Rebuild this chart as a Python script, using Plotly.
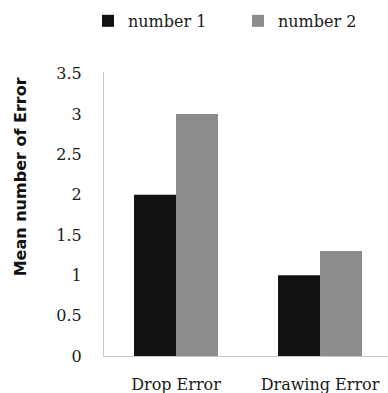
import plotly.graph_objects as go

categories = ["Drop Error", "Drawing Error"]
series_names = ["number 1", "number 2"]
number1 = [2.0, 1.0]
number2 = [3.0, 1.3]
colors = ["#111111", "#8c8c8c"]
y_ticks = [0, 0.5, 1, 1.5, 2, 2.5, 3, 3.5]
y_ticktext = ["0", "0.5", "1", "1.5", "2", "2.5", "3", "3.5"]
y_title = "Mean number of Error"

serif = "DejaVu Serif"

fig = go.Figure()
for name, vals, col in zip(series_names, [number1, number2], colors):
    fig.add_trace(go.Bar(x=categories, y=vals, name=name,
                         marker=dict(color=col, line=dict(width=0))))

fig.update_layout(
    width=388, height=393,
    margin=dict(l=104, r=0, t=72, b=37),
    paper_bgcolor="white", plot_bgcolor="white",
    barmode="group", bargap=0.417, bargroupgap=0,
    showlegend=True,
    legend=dict(orientation="h", x=-0.035, xanchor="left", y=1.12, yanchor="bottom",
                entrywidth=105,
                font=dict(family=serif, size=16, color="#1a1a1a"),
                bgcolor="rgba(0,0,0,0)"),
    xaxis=dict(range=[-0.5, 1.472], showgrid=False, showline=True, linecolor="#c8c8c8",
               linewidth=1, ticks="", ticklabelstandoff=14,
               tickfont=dict(family=serif, size=16, color="#1a1a1a")),
    yaxis=dict(range=[0, 3.52], tickvals=y_ticks, ticktext=y_ticktext, showgrid=False,
               zeroline=False, showline=True, linecolor="#c8c8c8", linewidth=1,
               ticks="", ticklabelstandoff=18,
               tickfont=dict(family=serif, size=16, color="#1a1a1a")),
    annotations=[dict(text="<b>" + y_title + "</b>", textangle=-90,
                      xref="paper", x=-0.295, xanchor="center",
                      yref="paper", y=0.63, yanchor="middle", showarrow=False,
                      font=dict(family="DejaVu Sans", size=16, color="#111111"))],
)

fig.write_html("out.html")
